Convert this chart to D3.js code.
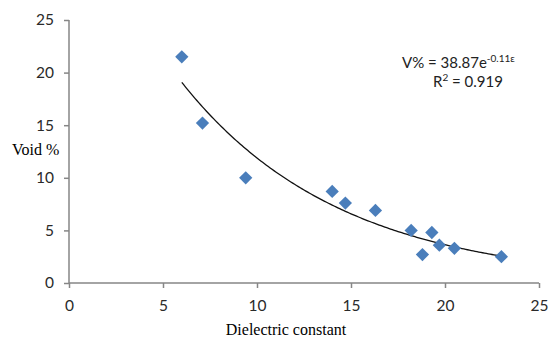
<!DOCTYPE html>
<html>
<head>
<meta charset="utf-8">
<script src="https://cdn.jsdelivr.net/npm/d3@7"></script>
<style>
  body { margin: 0; background: #fff; }
  svg { display: block; }
</style>
</head>
<body>
<svg id="chart"></svg>
<script>
var dielectric = [6.0, 7.1, 9.4, 14.0, 14.7, 16.3, 18.2, 19.3, 18.8, 19.7, 20.5, 23.0];
var voids = [21.5, 15.2, 10.0, 8.7, 7.6, 6.9, 5.0, 4.8, 2.7, 3.6, 3.3, 2.5];
var xTicks = [0, 5, 10, 15, 20, 25];
var yTicks = [0, 5, 10, 15, 20, 25];

var svgWidth = 549, svgHeight = 338;
var svg = d3.select("#chart")
    .attr("width", svgWidth)
    .attr("height", svgHeight);

var x = d3.scaleLinear().domain([0, 25]).range([69, 539]);
var y = d3.scaleLinear().domain([0, 25]).range([283, 20]);

var axisColor = "#868686";
var tickFont = "Lato, 'Open Sans', sans-serif";
var serif = "'Liberation Serif', 'Times New Roman', serif";

// axes
var xAxis = svg.append("g")
    .attr("transform", "translate(0," + y(0) + ")")
    .call(d3.axisBottom(x).tickValues(xTicks).tickSize(5).tickPadding(12));
var yAxis = svg.append("g")
    .attr("transform", "translate(" + x(0) + ",0)")
    .call(d3.axisLeft(y).tickValues(yTicks).tickSize(5).tickPadding(10));

[xAxis, yAxis].forEach(function(ax) {
    ax.select(".domain").attr("stroke", axisColor).attr("stroke-width", 1.5);
    ax.selectAll(".tick line").attr("stroke", axisColor).attr("stroke-width", 1.5);
    ax.selectAll(".tick text")
        .attr("fill", "#2a2a2a")
        .style("font-family", tickFont)
        .style("font-size", "15.5px");
});
// axis domains without the end caps
xAxis.select(".domain").attr("d", "M" + x(0) + ",0H" + x(25));
yAxis.select(".domain").attr("d", "M0," + y(0) + "V" + y(25));

// exponential trend line, least squares on ln(y) like the spreadsheet does
var n = dielectric.length;
var lnV = voids.map(function(v) { return Math.log(v); });
var mx = d3.mean(dielectric), my = d3.mean(lnV);
var sxy = 0, sxx = 0;
for (let i = 0; i < n; i++) {
    sxy += (dielectric[i] - mx) * (lnV[i] - my);
    sxx += (dielectric[i] - mx) * (dielectric[i] - mx);
}
var b = sxy / sxx;
var a = Math.exp(my - b * mx);

var xs = d3.range(d3.min(dielectric), d3.max(dielectric) + 0.001, 0.1);
var line = d3.line()
    .x(function(d) { return x(d); })
    .y(function(d) { return y(a * Math.exp(b * d)); });

svg.append("path")
    .datum(xs)
    .attr("d", line)
    .attr("fill", "none")
    .attr("stroke", "#111")
    .attr("stroke-width", 1.3);

// points
var diamond = d3.symbol().type(d3.symbolSquare).size(88);
svg.selectAll(".pt")
    .data(dielectric)
    .enter()
    .append("path")
    .attr("class", "pt")
    .attr("d", diamond)
    .attr("transform", function(d, i) {
        return "translate(" + x(d) + "," + y(voids[i]) + ") rotate(45)";
    })
    .attr("fill", "#4a7ebb");

// equation
var eq = svg.append("text")
    .attr("x", 402)
    .attr("y", 68)
    .attr("fill", "#222")
    .style("font-family", tickFont)
    .style("font-size", "15px");
eq.append("tspan").text("V% = 38.87e");
eq.append("tspan")
    .attr("dy", -6)
    .style("font-size", "10px")
    .text("-0.11\u03b5");

var r2 = svg.append("text")
    .attr("x", 433)
    .attr("y", 87)
    .attr("fill", "#222")
    .style("font-family", tickFont)
    .style("font-size", "15px");
r2.append("tspan").text("R");
r2.append("tspan").attr("dy", -6).style("font-size", "10px").text("2");
r2.append("tspan").attr("dy", 6).text(" = 0.919");

// axis titles
svg.append("text")
    .attr("x", 12)
    .attr("y", 155)
    .style("font-family", serif)
    .style("font-size", "16px")
    .text("Void %");

svg.append("text")
    .attr("x", 286)
    .attr("y", 335)
    .attr("text-anchor", "middle")
    .style("font-family", serif)
    .style("font-size", "16px")
    .text("Dielectric constant");
</script>
</body>
</html>
